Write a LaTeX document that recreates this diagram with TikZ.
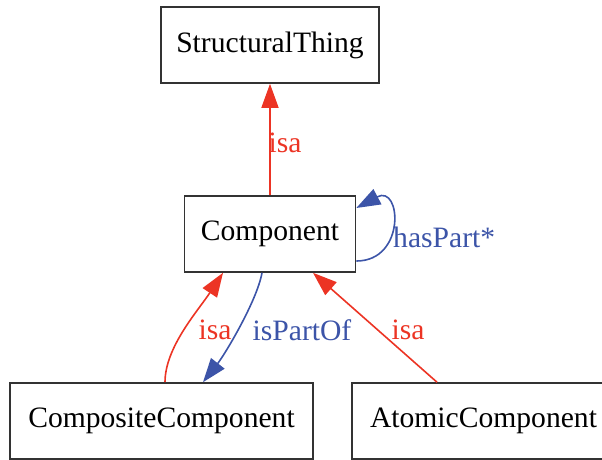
\documentclass[tikz,border=0pt]{standalone}
\usepackage{fontspec}
\setmainfont{Liberation Serif}
\usepackage{xcolor}
\usetikzlibrary{arrows.meta}
\definecolor{isared}{RGB}{236,52,36}
\definecolor{partblue}{RGB}{60,84,168}
\tikzset{
  thing/.style={draw=black!80,line width=1.6pt,minimum height=76pt,inner sep=0pt,font=\fontsize{29.6}{34}\selectfont},
  isaedge/.style={draw=isared,line width=1.6pt,-{Triangle[length=24pt,width=17pt]}},
  partedge/.style={draw=partblue,line width=1.6pt,-{Triangle[length=24pt,width=17pt]}},
  isalabel/.style={text=isared,inner sep=0pt,font=\fontsize{29.6}{34}\selectfont},
  partlabel/.style={text=partblue,inner sep=0pt,font=\fontsize{29.6}{34}\selectfont}
}
\begin{document}
\begin{tikzpicture}[x=1pt,y=1pt]
  \useasboundingbox (0,0) rectangle (602,-459);
  \clip (0,0) rectangle (602,-459);
  \node[thing,minimum width=218pt] (struct) at (270,-45) {StructuralThing};
  \node[thing,minimum width=171pt] (comp) at (270,-234) {Component};
  \node[thing,minimum width=303pt] (composite) at (161.5,-421) {CompositeComponent};
  \node[thing,minimum width=263pt] (atomic) at (483.5,-421) {AtomicComponent};
  \draw[isaedge] (comp.north) -- (struct.south);
  \node[isalabel] (isaup) at (285,-143) {isa};
  \draw[isaedge] ([xshift=3.5pt]composite.north) .. controls +(0,35) and +(-25,-38) .. ([xshift=-47pt]comp.south);
  \node[isalabel] (isaleft) at (215,-330) {isa};
  \draw[partedge] ([xshift=-8pt]comp.south) .. controls +(-5,-28) and +(22,28) .. ([xshift=41.5pt]composite.north);
  \node[partlabel] (partof) at (302,-330) {isPartOf};
  \draw[isaedge] ([xshift=-46.5pt]atomic.north) -- ([xshift=43pt]comp.south);
  \node[isalabel] (isaright) at (408,-330) {isa};
  \draw[partedge] ([yshift=-27pt]comp.east) .. controls +(50,0) and +(45,24) .. ([yshift=26pt]comp.east);
  \node[partlabel,anchor=west] (haspart) at (393,-237) {hasPart*};
\end{tikzpicture}
\end{document}
